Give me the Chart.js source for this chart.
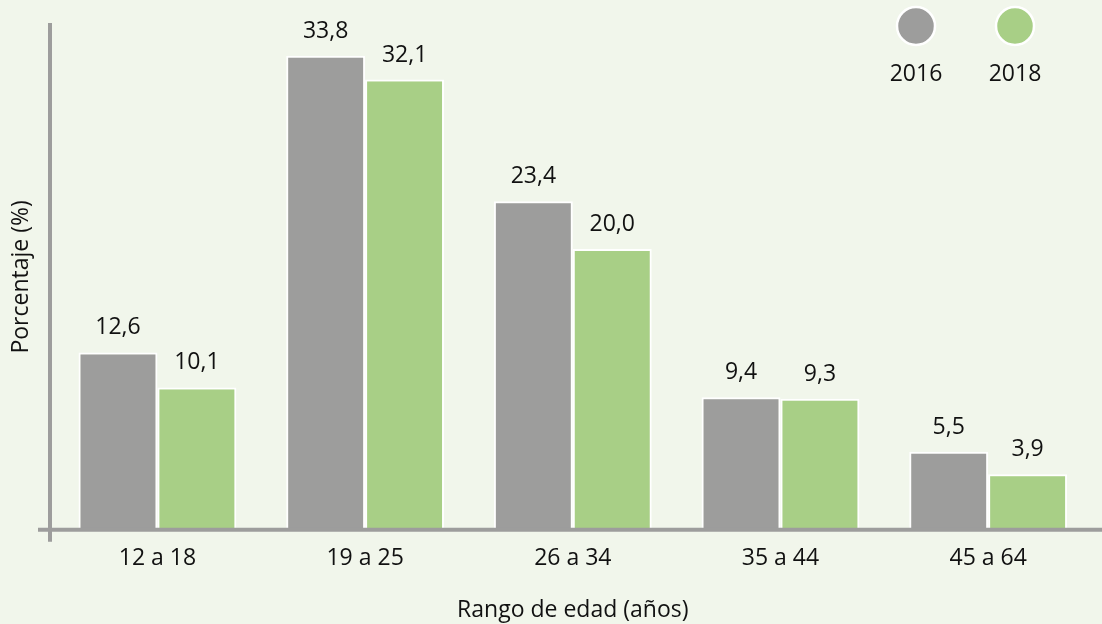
<!DOCTYPE html>
<html>
<head>
<meta charset="utf-8">
<script src="https://cdn.jsdelivr.net/npm/chart.js@4.4.1/dist/chart.umd.min.js"></script>
<style>
html,body{margin:0;padding:0;background:#f1f6eb;}
#wrap{width:1102px;height:624px;}
</style>
</head>
<body>
<div id="wrap"><canvas id="chart" width="1102" height="624"></canvas></div>
<script>
let categories = ["12 a 18","19 a 25","26 a 34","35 a 44","45 a 64"];
let years = ["2016","2018"];
let values2016 = [12.6,33.8,23.4,9.4,5.5];
let values2018 = [10.1,32.1,20.0,9.3,3.9];

let gray = "#9d9d9c";
let green = "#a8cf86";
let fontFamily = "'Open Sans', 'Noto Sans', sans-serif";
let fontSize = 23;

function fmt(v){
return v.toFixed(1).replace(".",",");
}

/* axis lines that stick out past each other */
let axisLines = {
id:"axisLines",
afterDatasetsDraw(chart){
let ctx = chart.ctx;
let area = chart.chartArea;
let y0 = chart.scales.y.getPixelForValue(0);
ctx.save();
ctx.strokeStyle = gray;
ctx.lineWidth = 4;
ctx.beginPath();
ctx.moveTo(38, y0 + 1);
ctx.lineTo(chart.width, y0 + 1);
ctx.stroke();
ctx.beginPath();
ctx.moveTo(50, area.top - 2);
ctx.lineTo(50, y0 + 13);
ctx.stroke();
ctx.restore();
}
};

/* value labels over the bars */
let valueLabels = {
id:"valueLabels",
afterDatasetsDraw(chart){
let ctx = chart.ctx;
ctx.save();
ctx.font = fontSize + "px " + fontFamily;
ctx.fillStyle = "#111";
ctx.textAlign = "center";
ctx.textBaseline = "alphabetic";
chart.data.datasets.forEach((ds,i) => {
chart.getDatasetMeta(i).data.forEach((bar,j) => {
ctx.fillText(fmt(ds.data[j]), bar.x, bar.y - 18);
});
});
ctx.restore();
}
};

/* legend: circles with the year underneath */
let dotLegend = {
id:"dotLegend",
afterDraw(chart){
let ctx = chart.ctx;
let xs = [916,1015];
ctx.save();
chart.data.datasets.forEach((ds,i) => {
ctx.beginPath();
ctx.arc(xs[i], 26, 19, 0, Math.PI*2);
ctx.fillStyle = ds.backgroundColor;
ctx.fill();
ctx.lineWidth = 2.5;
ctx.strokeStyle = "#ffffff";
ctx.stroke();
ctx.font = fontSize + "px " + fontFamily;
ctx.fillStyle = "#111";
ctx.textAlign = "center";
ctx.textBaseline = "middle";
ctx.fillText(ds.label, xs[i], 74);
});
ctx.restore();
}
};

let ctx = document.getElementById("chart").getContext("2d");

new Chart(ctx,{
type:"bar",
data:{
labels:categories,
datasets:[{
label:years[0],
data:values2016,
backgroundColor:gray,
borderColor:"#ffffff",
borderWidth:2
},{
label:years[1],
data:values2018,
backgroundColor:green,
borderColor:"#ffffff",
borderWidth:2
}]
},
options:{
responsive:false,
animation:false,
categoryPercentage:0.76,
barPercentage:1.0,
layout:{
padding:{left:0,right:10,top:25,bottom:0}
},
plugins:{
legend:{display:false},
tooltip:{enabled:false}
},
scales:{
x:{
grid:{display:false,drawTicks:false},
border:{display:false},
ticks:{
color:"#111",
padding:16,
font:{size:fontSize,family:fontFamily}
},
title:{
display:true,
text:"Rango de edad (años)",
color:"#111",
padding:{top:8,bottom:0},
font:{size:fontSize,family:fontFamily}
}
},
y:{
min:0,
max:36,
grid:{display:false,drawTicks:false},
border:{display:false},
ticks:{display:false},
title:{
display:true,
text:"Porcentaje (%)",
color:"#111",
padding:{top:8,bottom:18},
font:{size:fontSize,family:fontFamily}
}
}
}
},
plugins:[axisLines,valueLabels,dotLegend]
});
</script>
</body>
</html>
